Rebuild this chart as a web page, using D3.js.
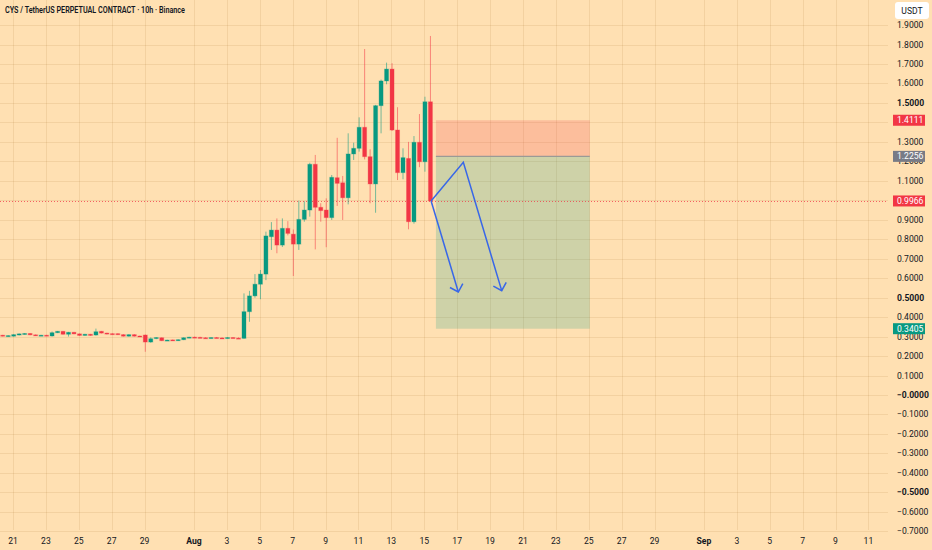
<!DOCTYPE html>
<html>
<head>
<meta charset="utf-8">
<script src="https://cdn.jsdelivr.net/npm/d3@7"></script>
<style>
  html, body { margin: 0; padding: 0; background: #FFE0B2; }
  svg { display: block; font-family: Roboto, "Noto Sans", sans-serif; }
</style>
</head>
<body>
<svg id="chart" width="932" height="550"></svg>
<script>
'use strict';
// --- data (8h spaced bars, first one Jul 20 09:00) ---
const firstBar = "2025-07-20T09:00:00Z";
const opens  = [.307,.302,.302,.308,.312,.316,.309,.305,.307,.303,.320,.327,.312,.322,.314,.306,.312,.308,.327,.318,
                .315,.315,.310,.302,.310,.303,.308,.272,.290,.294,.280,.283,.280,.284,.294,.297,.296,.294,.293,.295,
                .293,.292,.295,.292,.291,.428,.509,.569,.621,.813,.847,.770,.856,.826,.775,.902,.950,1.185,.964,.950,
                .911,1.116,1.090,1.013,1.238,1.267,1.375,1.224,1.084,1.486,1.613,1.674,1.361,1.142,1.215,.890,1.298,1.198,1.506];
const highs  = [.309,.307,.312,.316,.318,.318,.311,.309,.309,.326,.329,.329,.324,.324,.316,.314,.314,.341,.329,.320,
                .317,.317,.313,.312,.313,.305,.311,.296,.297,.296,.284,.285,.286,.296,.299,.300,.299,.297,.296,.298,
                .296,.297,.297,.296,.522,.535,.621,.642,.839,.888,.907,.907,.893,.850,.998,.995,1.193,1.233,.985,1.010,
                1.130,1.321,1.125,1.344,1.296,1.426,1.777,1.262,1.490,1.620,1.707,1.704,1.478,1.267,1.300,1.330,1.443,1.532,1.844];
const lows   = [.301,.300,.300,.306,.310,.307,.303,.303,.303,.300,.318,.310,.300,.312,.304,.304,.304,.305,.316,.311,
                .310,.308,.300,.300,.300,.298,.222,.268,.287,.277,.278,.278,.278,.282,.292,.294,.292,.291,.290,.292,
                .290,.290,.291,.289,.289,.376,.500,.492,.590,.745,.728,.760,.820,.611,.745,.890,.916,.748,.890,.759,
                .899,.971,.899,.979,1.207,1.250,1.210,.985,.936,1.344,1.596,1.356,1.104,1.108,.851,.880,1.170,1.147,.9966];
const closes = [.303,.305,.310,.314,.316,.309,.305,.307,.305,.320,.327,.312,.322,.314,.306,.312,.306,.325,.318,.313,
                .312,.310,.302,.310,.302,.300,.272,.289,.295,.279,.282,.280,.284,.294,.297,.296,.294,.293,.295,.293,
                .292,.295,.292,.291,.428,.509,.569,.621,.817,.847,.770,.856,.830,.775,.902,.950,1.185,.964,.947,.911,
                1.118,1.087,1.013,1.238,1.267,1.375,1.224,1.084,1.486,1.613,1.674,1.361,1.142,1.219,.890,1.298,1.198,1.506,.9966];

const priceTicks = d3.range(-7, 20).map(v => v / 10);
const dateTicks = ["2025-07-21","2025-07-23","2025-07-25","2025-07-27","2025-07-29","2025-08-01","2025-08-03",
  "2025-08-05","2025-08-07","2025-08-09","2025-08-11","2025-08-13","2025-08-15","2025-08-17","2025-08-19",
  "2025-08-21","2025-08-23","2025-08-25","2025-08-27","2025-08-29","2025-09-01","2025-09-03","2025-09-05",
  "2025-09-07","2025-09-09","2025-09-11"];

// short position tool
const stopPrice = 1.4111, entryPrice = 1.2256, targetPrice = 0.3405, lastPrice = 0.9966;
const positionFrom = "2025-08-15T17:00:00Z", positionTo = "2025-08-25T01:30:00Z";

// blue arrows (time, price)
const arrowPath1 = [["2025-08-15T10:00:00Z", 0.9966], ["2025-08-17T09:00:00Z", 1.195], ["2025-08-19T17:00:00Z", 0.536]];
const arrowPath2 = [["2025-08-15T10:00:00Z", 0.9966], ["2025-08-17T01:40:00Z", 0.529]];

const title = "CYS / TetherUS PERPETUAL CONTRACT · 10h · Binance";

(() => {
    const W = 932, H = 550;
    const plotW = 888, plotH = 530;
    const up = "#089981", down = "#F23645";
    const day = 864e5;

    const svg = d3.select("#chart");
    svg.append("rect").attr("width", W).attr("height", H).attr("fill", "#FFE0B2");

    const t21 = Date.UTC(2025, 6, 21);
    const x = d3.scaleUtc()
        .domain([new Date(t21 - 0.79 * day), new Date(t21 + 53.19 * day)])
        .range([0, plotW]);
    const y = d3.scaleLinear()
        .domain([0, 1.9])
        .range([395, 395 - 1.9 * 194.7]);

    const t0 = Date.parse(firstBar);
    const bars = closes.map((c, i) => ({
        t: new Date(t0 + i * 8 * 3600e3), o: opens[i], h: highs[i], l: lows[i], c
    }));

    // grid
    const grid = svg.append("g").attr("stroke", "rgba(160,110,40,0.13)").attr("stroke-width", 1);
    grid.selectAll(".hg").data(priceTicks).enter().append("line")
        .attr("x1", 0).attr("x2", plotW)
        .attr("y1", d => Math.round(y(d)) + 0.5).attr("y2", d => Math.round(y(d)) + 0.5);
    grid.selectAll(".vg").data(dateTicks).enter().append("line")
        .attr("y1", 0).attr("y2", plotH)
        .attr("x1", d => Math.round(x(new Date(d))) + 0.5).attr("x2", d => Math.round(x(new Date(d))) + 0.5);

    // position tool
    const px0 = x(new Date(positionFrom)), px1 = x(new Date(positionTo));
    svg.append("rect").attr("x", px0).attr("width", px1 - px0)
        .attr("y", y(stopPrice)).attr("height", y(entryPrice) - y(stopPrice))
        .attr("fill", "rgba(242,54,69,0.2)");
    svg.append("rect").attr("x", px0).attr("width", px1 - px0)
        .attr("y", y(entryPrice)).attr("height", y(targetPrice) - y(entryPrice))
        .attr("fill", "rgba(8,153,129,0.2)");
    svg.append("line").attr("x1", px0).attr("x2", px1)
        .attr("y1", y(entryPrice)).attr("y2", y(entryPrice))
        .attr("stroke", "#9a9a96").attr("stroke-width", 1.2);

    // last price line
    svg.append("line").attr("x1", 0).attr("x2", plotW)
        .attr("y1", Math.round(y(lastPrice)) + 0.5).attr("y2", Math.round(y(lastPrice)) + 0.5)
        .attr("stroke", down).attr("stroke-opacity", 0.75)
        .attr("stroke-width", 1).attr("stroke-dasharray", "1,2");

    // candles
    const bw = 4;
    const cg = svg.append("g");
    cg.selectAll(".wick").data(bars).enter().append("line")
        .attr("x1", d => x(d.t)).attr("x2", d => x(d.t))
        .attr("y1", d => y(d.h)).attr("y2", d => y(d.l))
        .attr("stroke", d => d.c >= d.o ? up : down)
        .attr("stroke-opacity", 0.55).attr("stroke-width", 1);
    cg.selectAll(".body").data(bars).enter().append("rect")
        .attr("x", d => x(d.t) - bw / 2).attr("width", bw)
        .attr("y", d => y(Math.max(d.o, d.c)))
        .attr("height", d => Math.max(1, Math.abs(y(d.o) - y(d.c))))
        .attr("fill", d => d.c >= d.o ? up : down)
        .attr("stroke", d => d.c >= d.o ? up : down)
        .attr("stroke-opacity", 0.3).attr("stroke-width", 1);

    // arrows
    const line = d3.line().x(d => x(new Date(d[0]))).y(d => y(d[1]));
    function arrow(pts) {
        svg.append("path").attr("d", line(pts))
            .attr("fill", "none").attr("stroke", "#3867E8").attr("stroke-width", 1.5);
        const a = pts[pts.length - 2], b = pts[pts.length - 1];
        const ax = x(new Date(a[0])), ay = y(a[1]), bx = x(new Date(b[0])), by = y(b[1]);
        const ang = Math.atan2(ay - by, ax - bx), len = 9.5, spread = Math.PI / 4;
        const arms = [ang - spread, ang + spread].map(t => [bx + len * Math.cos(t), by + len * Math.sin(t)]);
        svg.append("path")
            .attr("d", `M${arms[0]}L${bx},${by}L${arms[1]}`)
            .attr("fill", "none").attr("stroke", "#3867E8").attr("stroke-width", 1.5);
    }
    arrow(arrowPath1);
    arrow(arrowPath2);

    // price axis (labels fully under a price marker are not drawn, as in the original)
    const marks = [
        { v: stopPrice, fill: down },
        { v: entryPrice, fill: "#787B86" },
        { v: lastPrice, fill: down },
        { v: targetPrice, fill: up },
    ];
    const covered = v => marks.some(m => Math.abs(y(m.v) - y(v)) < 4);
    const fmt = v => (v <= 0 ? "\u2212" : "") + Math.abs(v).toFixed(4);
    svg.append("g").selectAll("text").data(priceTicks.filter(v => !covered(v))).enter().append("text")
        .attr("x", 897).attr("y", d => y(d)).attr("dy", "0.35em")
        .attr("font-size", 8.6)
        .attr("font-weight", d => Math.round(d * 10) % 5 === 0 ? 700 : 400)
        .attr("fill", "#131722")
        .text(fmt);

    const mg = svg.append("g").selectAll("g").data(marks).enter().append("g");
    mg.append("rect").attr("x", 893).attr("width", 32)
        .attr("y", d => y(d.v) - 5.5).attr("height", 11)
        .attr("fill", d => d.fill);
    mg.append("text").attr("x", 897).attr("y", d => y(d.v)).attr("dy", "0.35em")
        .attr("font-size", 8.6).attr("fill", "#fff")
        .text(d => d.v.toFixed(4));

    // currency box
    svg.append("rect").attr("x", 895).attr("y", 2).attr("width", 34).attr("height", 17)
        .attr("rx", 3).attr("fill", "#fff");
    svg.append("text").attr("x", 912).attr("y", 10.5).attr("dy", "0.35em")
        .attr("text-anchor", "middle").attr("font-size", 8.6).attr("fill", "#131722").text("USDT");

    // time axis
    svg.append("g").selectAll("text").data(dateTicks).enter().append("text")
        .attr("x", d => x(new Date(d))).attr("y", 541).attr("dy", "0.35em")
        .attr("text-anchor", "middle").attr("font-size", 8.6).attr("fill", "#131722")
        .attr("font-weight", d => new Date(d).getUTCDate() === 1 ? 700 : 400)
        .text(d => {
            const dt = new Date(d);
            return dt.getUTCDate() === 1 ? d3.utcFormat("%b")(dt) : dt.getUTCDate();
        });

    // title
    svg.append("text").attr("x", 5).attr("y", 10.5).attr("dy", "0.35em")
        .attr("font-size", 8.4).attr("font-weight", 600).attr("fill", "#131722")
        .attr("textLength", 180).attr("lengthAdjust", "spacingAndGlyphs")
        .text(title);
})();
</script>
</body>
</html>
